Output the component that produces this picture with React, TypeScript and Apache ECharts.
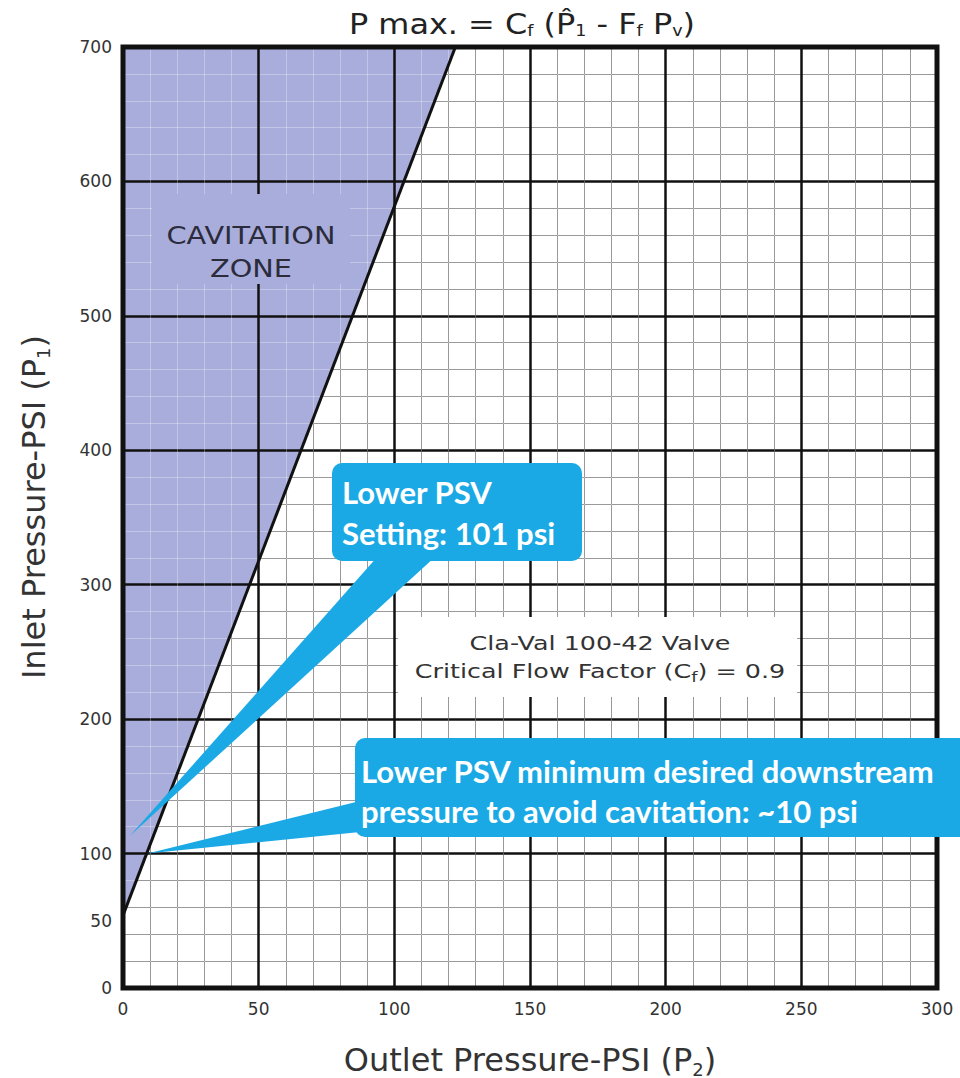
import React, { useEffect, useRef } from "react";
import * as echarts from "echarts";

// ---- data ----
const xMin = 0;
const xMax = 300;
const xStep = 50;
const yMin = 0;
const yMax = 700;
const yMajorStep = 100;
const yLabelStep = 50;
const yLabelValues = [0, 50, 100, 200, 300, 400, 500, 600, 700];
// cavitation limit line (outlet P2, inlet P1)
const limitP2 = [0, 122.5];
const limitP1 = [54, 700];
// callout tips (data coords)
const psvSettingTip = [2.5, 113];
const minDownstreamTip = [9, 100];

const ZONE = "#a9addb";
const BLUE = "#1ba9e6";
const FONT = "'DejaVu Sans', 'Liberation Sans', sans-serif";
const CALLOUT_FONT = "Lato, 'Open Sans', sans-serif";

export default function App() {
  const ref = useRef<HTMLDivElement>(null);

  useEffect(() => {
    if (!ref.current) return;
    const chart = echarts.init(ref.current, undefined, { renderer: "svg" });
    const limitData = limitP2.map((x, i) => [x, limitP1[i]]);

    const baseX = {
      type: "value",
      min: xMin,
      max: xMax,
      interval: xStep,
      axisLine: { show: false },
      axisTick: { show: false },
      minorTick: { show: false, splitNumber: 5 },
    };
    const baseY = {
      type: "value",
      min: yMin,
      max: yMax,
      interval: yMajorStep,
      position: "left",
      axisLine: { show: false },
      axisTick: { show: false },
      minorTick: { show: false, splitNumber: 5 },
    };

    const option: any = {
      animation: false,
      backgroundColor: "#ffffff",
      grid: {
        left: 123,
        right: 23,
        top: 47,
        bottom: 90,
        containLabel: false,
        outerBoundsMode: "none",
        show: true,
        z: 6,
        borderColor: "#111",
        borderWidth: 5,
        backgroundColor: "transparent",
      },
      xAxis: [
        {
          ...baseX,
          z: 0,
          axisLabel: { color: "#333", fontSize: 17, fontFamily: FONT, margin: 12 },
          splitLine: { show: false },
          minorSplitLine: { show: true, lineStyle: { color: "#6d6d6d", width: 1 } },
          name: "Outlet Pressure-PSI (P{s|2})",
          nameLocation: "middle",
          nameGap: 54,
          nameTextStyle: {
            color: "#333",
            fontSize: 32,
            fontFamily: FONT,
            rich: { s: { fontSize: 18, color: "#333", fontFamily: FONT, padding: [18, 0, 0, 0] } },
          },
        },
        {
          ...baseX,
          z: 2,
          axisLabel: { show: false },
          splitLine: { show: true, lineStyle: { color: "#111", width: 2.5 } },
          minorSplitLine: { show: true, lineStyle: { color: "rgba(255,255,255,0.3)", width: 1 } },
        },
      ],
      yAxis: [
        {
          ...baseY,
          z: 0,
          axisLabel: { show: false },
          splitLine: { show: false },
          minorSplitLine: { show: true, lineStyle: { color: "#6d6d6d", width: 1 } },
        },
        {
          ...baseY,
          z: 0,
          interval: yLabelStep,
          minorTick: { show: false },
          splitLine: { show: false },
          axisLabel: {
            color: "#333",
            fontSize: 17,
            fontFamily: FONT,
            margin: 11,
            formatter: (v: number) => (yLabelValues.includes(v) ? String(v) : ""),
          },
        },
        {
          ...baseY,
          z: 2,
          axisLabel: { show: false },
          splitLine: { show: true, lineStyle: { color: "#111", width: 2.5 } },
          minorSplitLine: { show: true, lineStyle: { color: "rgba(255,255,255,0.3)", width: 1 } },
        },
      ],
      series: [
        {
          type: "line",
          z: 1,
          xAxisIndex: 0,
          yAxisIndex: 0,
          data: limitData,
          symbol: "none",
          lineStyle: { width: 0 },
          areaStyle: { color: ZONE, opacity: 1, origin: "end" },
          silent: true,
        },
        {
          type: "line",
          z: 5,
          xAxisIndex: 0,
          yAxisIndex: 0,
          data: limitData,
          symbol: "none",
          lineStyle: { color: "#111", width: 3 },
          silent: true,
        },
      ],
    };
    chart.setOption(option);

    const p1 = chart.convertToPixel({ gridIndex: 0 }, psvSettingTip) as number[];
    const p2 = chart.convertToPixel({ gridIndex: 0 }, minDownstreamTip) as number[];

    chart.setOption({
      graphic: [
        {
          type: "text",
          x: 522,
          y: 24,
          scaleX: 1.1,
          style: {
            text: "P max. = C{s|f} (P̂{s|1} - F{s|f} P{s|v})",
            fontSize: 29,
            fontFamily: FONT,
            fill: "#222",
            align: "center",
            verticalAlign: "middle",
            rich: { s: { fontSize: 16, fontFamily: FONT, fill: "#222", padding: [12, 0, 0, 0] } },
          },
          z: 10,
        },
        {
          type: "text",
          x: 34,
          y: 507,
          rotation: Math.PI / 2,
          style: {
            text: "Inlet Pressure-PSI (P{s|1})",
            fontSize: 32,
            fontFamily: FONT,
            fill: "#333",
            align: "center",
            verticalAlign: "middle",
            rich: { s: { fontSize: 18, fontFamily: FONT, fill: "#333", padding: [18, 0, 0, 0] } },
          },
          z: 10,
        },
        // cavitation zone label
        {
          type: "rect",
          shape: { x: 152, y: 194, width: 198, height: 90 },
          style: { fill: ZONE },
          z: 10,
        },
        {
          type: "text",
          x: 251,
          y: 252,
          scaleX: 1.15,
          style: {
            text: "CAVITATION\nZONE",
            fontSize: 25,
            lineHeight: 33,
            fontFamily: FONT,
            fill: "#2b2b3b",
            align: "center",
            verticalAlign: "middle",
          },
          z: 11,
        },
        // valve info box
        {
          type: "rect",
          shape: { x: 398, y: 617, width: 399, height: 80 },
          style: { fill: "#fff" },
          z: 10,
        },
        {
          type: "text",
          x: 600,
          y: 657,
          scaleX: 1.27,
          style: {
            text: "Cla-Val 100-42 Valve\nCritical Flow Factor (C{s|f}) = 0.9",
            fontSize: 20,
            lineHeight: 28,
            fontFamily: FONT,
            fill: "#333",
            align: "center",
            verticalAlign: "middle",
            rich: { s: { fontSize: 14, fontFamily: FONT, fill: "#333", padding: [12, 0, 0, 0] } },
          },
          z: 11,
        },
        // callout 1
        {
          type: "polygon",
          shape: { points: [[378, 556], [436, 556], p1] },
          style: { fill: BLUE },
          z: 12,
        },
        {
          type: "rect",
          shape: { x: 332, y: 463, width: 250, height: 98, r: 10 },
          style: { fill: BLUE },
          z: 12,
        },
        {
          type: "text",
          x: 342,
          y: 512,
          style: {
            text: "Lower PSV\nSetting: 101 psi",
            fontSize: 31,
            fontWeight: "bold",
            lineHeight: 41,
            fontFamily: CALLOUT_FONT,
            fill: "#fff",
            align: "left",
            verticalAlign: "middle",
          },
          z: 13,
        },
        // callout 2
        {
          type: "polygon",
          shape: { points: [[360, 801], [360, 832], p2] },
          style: { fill: BLUE },
          z: 12,
        },
        {
          type: "rect",
          shape: { x: 355, y: 738, width: 640, height: 99, r: 10 },
          style: { fill: BLUE },
          z: 12,
        },
        {
          type: "text",
          x: 361,
          y: 791,
          style: {
            text: "Lower PSV minimum desired downstream\npressure to avoid cavitation: ~10 psi",
            fontSize: 31,
            fontWeight: "bold",
            lineHeight: 40,
            fontFamily: CALLOUT_FONT,
            fill: "#fff",
            align: "left",
            verticalAlign: "middle",
          },
          z: 13,
        },
      ],
    });

    return () => chart.dispose();
  }, []);

  return <div ref={ref} style={{ width: 960, height: 1078, position: "absolute", left: 0, top: 0 }} />;
}
